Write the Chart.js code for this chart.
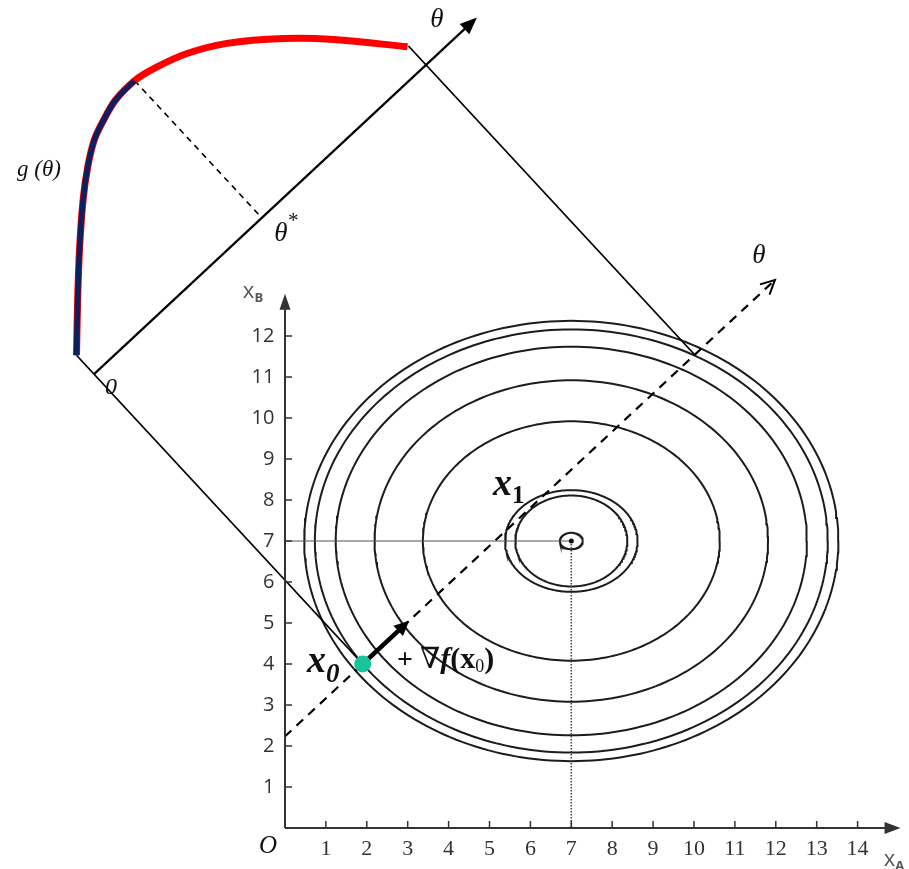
<!DOCTYPE html>
<html><head><meta charset="utf-8">
<script src="https://cdn.jsdelivr.net/npm/chart.js@4.4.1/dist/chart.umd.min.js"></script>
<style>html,body{margin:0;padding:0;background:#fff;}#wrap{width:909px;height:869px;position:relative;}</style>
</head><body><div id="wrap"><canvas id="c"></canvas></div>
<script>
// ---------- data ----------
const xTickValues = [1,2,3,4,5,6,7,8,9,10,11,12,13,14];
const yTickValues = [1,2,3,4,5,6,7,8,9,10,11,12];
const contourCenter = [7, 7];
const contourA = [6.53, 6.27, 5.76, 4.81, 3.63, 1.62, 1.37, 0.28];
const contourB = [5.37, 5.16, 4.74, 3.92, 2.92, 1.24, 1.11, 0.20];
const x0Point = [1.9, 4.0];
const thetaAngleDeg = 42.9;
const upperFrameOffset = 9.65;
const gTheta = [0, 0.94, 1.80, 2.69, 3.33, 3.89, 4.39, 4.93, 5.60, 6.23, 6.99, 7.87, 8.97, 9.85, 11.05];
const gValue = [0.63, 1.60, 2.46, 3.29, 3.81, 4.18, 4.38, 4.54, 4.57, 4.44, 4.18, 3.70, 2.84, 1.99, 0.63];
const thetaStar = 5.60;
const thetaProjEnd = 11.08;
const lowerThetaRange = [-2.6, 13.76];
const upperThetaRange = [0, 12.78];
const gradientStep = 1.55;

// ---------- frame helpers ----------
const rad = thetaAngleDeg * Math.PI / 180;
const U = [Math.cos(rad), Math.sin(rad)];
const N = [-Math.sin(rad), Math.cos(rad)];
function lowerF(th, g) { return {x: x0Point[0] + th*U[0] + g*N[0], y: x0Point[1] + th*U[1] + g*N[1]}; }
function upperF(th, g) { return lowerF(th, g + upperFrameOffset); }
function ellipsePts(a, b) {
  const pts = [];
  for (let k = 0; k <= 240; k++) { const t = 2*Math.PI*k/240; pts.push({x: contourCenter[0] + a*Math.cos(t), y: contourCenter[1] + b*Math.sin(t)}); }
  return pts;
}
const curveAll = gTheta.map((t,i) => upperF(t, gValue[i]));
const curveBlue = gTheta.map((t,i) => ({t, p: upperF(t, gValue[i])})).filter(o => o.t <= thetaStar + 1e-9).map(o => o.p);
const gStar = gValue[gTheta.indexOf(thetaStar)];

const lineDs = (data, color, width, dash, extra) => Object.assign({type:'scatter', data, showLine:true, borderColor:color, borderWidth:width, borderDash:dash||[], pointRadius:0, fill:false, tension:0}, extra||{});

const datasets = [
  {type:'scatter', data:[{x:x0Point[0], y:x0Point[1]}], pointRadius:8.5, pointBackgroundColor:'#18c49a', pointBorderWidth:0, showLine:false},
  {type:'scatter', data:[{x:contourCenter[0], y:contourCenter[1]}], pointRadius:2.5, pointBackgroundColor:'#111', pointBorderWidth:0, showLine:false},
  lineDs([lowerF(0,0), lowerF(gradientStep-0.3,0)], '#000', 4.5),
  lineDs(curveBlue, '#0c1f5e', 5.5, null, {tension:0.35, borderCapStyle:'butt'}),
  lineDs(curveAll, '#ff0000', 7, null, {tension:0.35, borderCapStyle:'butt'}),
  lineDs([upperF(thetaStar, gStar), upperF(thetaStar, 0)], '#000', 1.6, [6,5]),
  lineDs([upperF(upperThetaRange[0],0), upperF(upperThetaRange[1]-0.3,0)], '#000', 2.2),
  lineDs([upperF(0, gValue[0]), lowerF(0,0)], '#000', 1.8),
  lineDs([upperF(thetaProjEnd, gValue[gValue.length-1]), lowerF(thetaProjEnd,0)], '#000', 1.8),
  lineDs([lowerF(lowerThetaRange[0],0), lowerF(lowerThetaRange[1],0)], '#000', 2.2, [9,7]),
  lineDs([{x:0,y:contourCenter[1]},{x:contourCenter[0],y:contourCenter[1]}], '#555', 1),
  lineDs([{x:contourCenter[0],y:contourCenter[1]},{x:contourCenter[0],y:0}], '#444', 1.6, [1.5,1.5]),
];
contourA.forEach((a,i) => datasets.push(lineDs(ellipsePts(a, contourB[i]), '#1c1c1c', 2)));

// ---------- decorations ----------
function filledArrow(ctx, from, tip, len, hw) {
  const dx = tip[0]-from[0], dy = tip[1]-from[1], L = Math.hypot(dx,dy), ux = dx/L, uy = dy/L;
  const bx = tip[0]-ux*len, by = tip[1]-uy*len;
  ctx.beginPath(); ctx.moveTo(tip[0],tip[1]); ctx.lineTo(bx - uy*hw, by + ux*hw); ctx.lineTo(bx + uy*hw, by - ux*hw); ctx.closePath(); ctx.fill();
}
function openArrow(ctx, from, tip, len, hw) {
  const dx = tip[0]-from[0], dy = tip[1]-from[1], L = Math.hypot(dx,dy), ux = dx/L, uy = dy/L;
  const bx = tip[0]-ux*len, by = tip[1]-uy*len;
  ctx.beginPath(); ctx.moveTo(bx - uy*hw, by + ux*hw); ctx.lineTo(tip[0],tip[1]); ctx.lineTo(bx + uy*hw, by - ux*hw); ctx.stroke();
}
const SERIF = '"Liberation Serif","DejaVu Serif",serif';
const SANS = '"Open Sans","Liberation Sans",sans-serif';
const labels = [
  {at:[3.716,19.70], align:'center', runs:[{t:'θ', f:'italic 27px '+SERIF}]},
  {at:[11.589,13.95], align:'center', runs:[{t:'θ', f:'italic 27px '+SERIF}]},
  {at:[-6.015,16.05], align:'center', runs:[{t:'g (θ)', f:'italic 23px '+SERIF}]},
  {at:[-0.10,14.49], align:'center', runs:[{t:'θ', f:'italic 27px '+SERIF}]},
  {at:[0.20,14.80], align:'center', runs:[{t:'*', f:'21px '+SERIF}]},
  {at:[-4.254,10.73], align:'center', runs:[{t:'0', f:'italic 24px '+SERIF}]},
  {at:[-0.416,-0.46], align:'center', runs:[{t:'O', f:'italic 25px '+SERIF}]},
  {at:[5.086,8.12], base:true, runs:[{t:'x', f:'bold italic 38px '+SERIF},{t:'1', f:'bold 25px '+SERIF, dy:8}]},
  {at:[0.538,3.80], base:true, runs:[{t:'x', f:'bold italic 38px '+SERIF},{t:'0', f:'bold italic 27px '+SERIF, dy:10}]},
  {at:[2.738,3.90], base:true, runs:[{t:'+ ', f:'bold 28px '+SERIF},{t:'∇', f:'italic 29px "DejaVu Serif",serif'},{t:'f', f:'bold italic 30px '+SERIF},{t:'(x', f:'bold 30px '+SERIF},{t:'0', f:'18px '+SERIF, dy:4},{t:')', f:'bold 30px '+SERIF}]},
  {at:[-1.03,12.93], base:true, color:'#555', runs:[{t:'x', f:'22px '+SANS},{t:'B', f:'bold 13px '+SANS, dy:4}]},
  {at:[14.64,-0.93], base:true, color:'#555', runs:[{t:'x', f:'22px '+SANS},{t:'A', f:'bold 13px '+SANS, dy:4}]},
];

const decor = {
  id: 'decor',
  afterDatasetsDraw(chart) {
    const ctx = chart.ctx, xs = chart.scales.x, ys = chart.scales.y;
    const P = (x,y) => [xs.getPixelForValue(x), ys.getPixelForValue(y)];
    const Pp = (o) => P(o.x, o.y);
    ctx.save();
    ctx.strokeStyle = '#333'; ctx.fillStyle = '#333'; ctx.lineWidth = 2;
    let o = P(0,0), xe = P(14.9,0), ye = P(0,12.9);
    ctx.beginPath(); ctx.moveTo(o[0], o[1]); ctx.lineTo(xe[0], xe[1]); ctx.moveTo(o[0], o[1]); ctx.lineTo(ye[0], ye[1]); ctx.stroke();
    filledArrow(ctx, o, P(15.05,0), 16, 6);
    filledArrow(ctx, o, P(0,13.03), 16, 5.5);
    ctx.lineWidth = 1.5;
    ctx.beginPath();
    xTickValues.forEach(v => { const p = P(v,0); ctx.moveTo(p[0], p[1]); ctx.lineTo(p[0], p[1]-7); });
    yTickValues.forEach(v => { const p = P(0,v); ctx.moveTo(p[0], p[1]); ctx.lineTo(p[0]+7, p[1]); });
    ctx.stroke();
    ctx.fillStyle = '#000'; ctx.strokeStyle = '#000';
    filledArrow(ctx, Pp(upperF(0,0)), Pp(upperF(upperThetaRange[1],0)), 17, 7);
    filledArrow(ctx, Pp(lowerF(0,0)), Pp(lowerF(gradientStep,0)), 15, 7);
    ctx.lineWidth = 2;
    openArrow(ctx, Pp(lowerF(0,0)), Pp(lowerF(lowerThetaRange[1],0)), 14, 7);
    labels.forEach(l => {
      const p = P(l.at[0], l.at[1]);
      ctx.fillStyle = l.color || '#111';
      if (l.base) {
        let x = p[0];
        ctx.textAlign = 'left'; ctx.textBaseline = 'alphabetic';
        l.runs.forEach(r => { ctx.font = r.f; ctx.fillText(r.t, x, p[1] + (r.dy||0)); x += ctx.measureText(r.t).width; });
      } else {
        ctx.textAlign = 'center'; ctx.textBaseline = 'middle';
        const r = l.runs[0]; ctx.font = r.f; ctx.fillText(r.t, p[0], p[1]);
      }
    });
    ctx.restore();
  }
};

// pixel scale of the reference figure (origin pixel and pixels per unit)
const view = { ox: 285, oy: 828, kx: 40.9, ky: 41.0 };

const chart = new Chart(document.getElementById('c'), {
  type: 'scatter',
  data: { datasets },
  options: {
    responsive: true, maintainAspectRatio: false, animation: false, events: [],
    layout: { padding: 0 },
    plugins: { legend: {display:false}, tooltip: {enabled:false}, title: {display:false} },
    scales: {
      x: { type:'linear', min:-6.968, max:15.257, position:{y:0},
           grid:{display:false, drawTicks:false}, border:{display:false},
           afterBuildTicks: s => { s.ticks = xTickValues.map(v => ({value:v})); },
           ticks:{ autoSkip:false, maxRotation:0, padding:8, color:'#333', font:{family:'Liberation Serif', size:22} } },
      y: { type:'linear', min:-1.0, max:20.195, position:{x:-0.26},
           grid:{display:false, drawTicks:false}, border:{display:false},
           afterBuildTicks: s => { s.ticks = yTickValues.map(v => ({value:v})); },
           ticks:{ autoSkip:false, padding:0, color:'#333', font:{family:'Open Sans', size:20} } }
    }
  },
  plugins: [decor]
});
// fit the value ranges to the actual chart area so that the figure keeps its proportions
for (let i = 0; i < 3; i++) {
  const a = chart.chartArea;
  chart.options.scales.x.min = (a.left - view.ox) / view.kx;
  chart.options.scales.x.max = (a.right - view.ox) / view.kx;
  chart.options.scales.y.max = (view.oy - a.top) / view.ky;
  chart.options.scales.y.min = (view.oy - a.bottom) / view.ky;
  chart.update('none');
}
</script></body></html>
